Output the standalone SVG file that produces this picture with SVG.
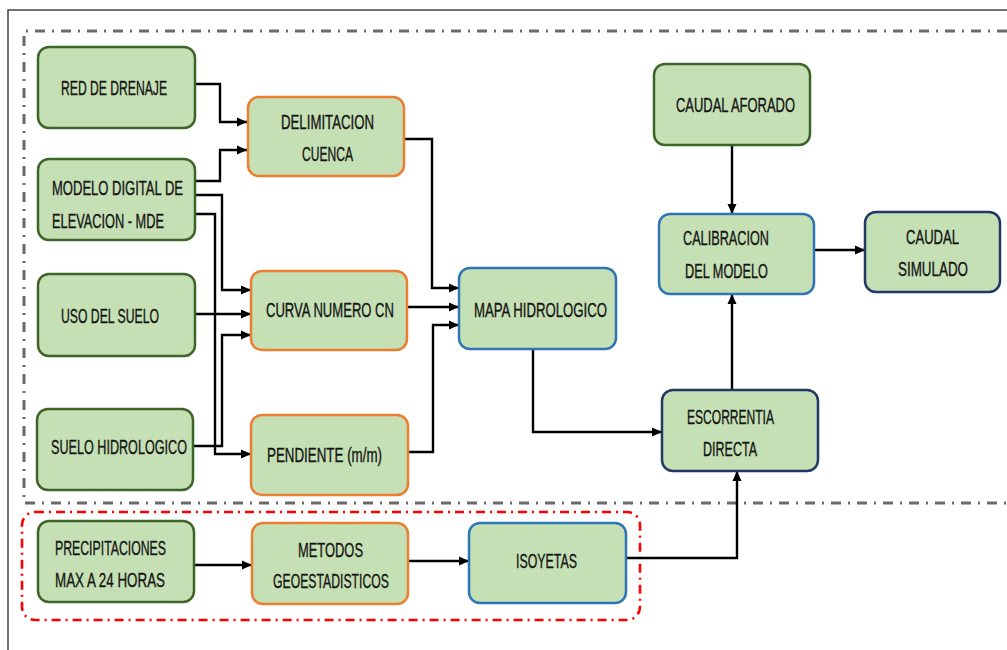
<svg xmlns="http://www.w3.org/2000/svg" width="1007" height="650" viewBox="0 0 1007 650">
  <style>
    .box { fill: #c5e0b4; stroke-width: 2.5; }
    .green { stroke: #3f6428; }
    .orange { stroke: #ed7d31; }
    .blue { stroke: #2e75b6; }
    .navy { stroke: #1f3864; }
    .lbl { font-family: "Liberation Sans Narrow", "Liberation Sans", Arial, sans-serif; font-size: 19.5px; fill: #151515; stroke: #151515; stroke-width: 0.35; }
    .wire { fill: none; stroke: #000; stroke-width: 2.4; marker-end: url(#arrow); }
  </style>
  <defs>
    <marker id="arrow" markerUnits="userSpaceOnUse" markerWidth="10" markerHeight="10" viewBox="0 0 10 10" refX="10" refY="5" orient="auto">
      <path d="M0,0.5 L10,5 L0,9.5 Z" fill="#000"/>
    </marker>
  </defs>

  <rect width="1007" height="650" fill="#fff"/>

  <!-- outer frame -->
  <path d="M1007,10 H8 V650" fill="none" stroke="#444" stroke-width="1.5"/>

  <!-- study-area boundary (grey dash-dot) -->
  <path d="M1007,31 H24 V503 H1007" fill="none" stroke="#6a6a6a" stroke-width="3" stroke-dasharray="10 7 2 7"/>

  <!-- rainfall block boundary (red dash-dot) -->
  <rect x="22" y="512" width="618" height="108" rx="13" ry="13" fill="none" stroke="#ff0000" stroke-width="2.6" stroke-dasharray="9 5 2 5"/>

  <!-- connectors -->
  <g id="connectors">
    <path class="wire" d="M195,84 H220 V122 H247"/>
    <path class="wire" d="M195,181 H220 V150 H247"/>
    <path class="wire" d="M195,195 H222 V290 H251"/>
    <path class="wire" d="M195,214 H215 V454 H251"/>
    <path class="wire" d="M195,314 H251"/>
    <path class="wire" d="M193,446 H222 V335 H251"/>
    <path class="wire" d="M404,139 H432 V288 H459"/>
    <path class="wire" d="M407,307 H459"/>
    <path class="wire" d="M408,452 H433 V325 H459"/>
    <path class="wire" d="M533,349 V432 H662"/>
    <path class="wire" d="M626,558 H737 V471"/>
    <path class="wire" d="M732,389 V294"/>
    <path class="wire" d="M732,145 V214"/>
    <path class="wire" d="M814,250 H865"/>
    <path class="wire" d="M194,565 H252"/>
    <path class="wire" d="M409,561 H469"/>
  </g>

  <!-- nodes -->
  <g id="red-drenaje">
    <rect class="box green" x="38" y="47" width="157" height="81" rx="11"/>
    <text class="lbl" x="61" y="95" textLength="106" lengthAdjust="spacingAndGlyphs">RED DE DRENAJE</text>
  </g>
  <g id="mde">
    <rect class="box green" x="38" y="159" width="157" height="81" rx="11"/>
    <text class="lbl" x="52" y="195" textLength="131" lengthAdjust="spacingAndGlyphs">MODELO DIGITAL DE</text>
    <text class="lbl" x="52" y="228" textLength="112" lengthAdjust="spacingAndGlyphs">ELEVACION - MDE</text>
  </g>
  <g id="uso-suelo">
    <rect class="box green" x="38" y="274" width="157" height="82" rx="11"/>
    <text class="lbl" x="61" y="323" textLength="98" lengthAdjust="spacingAndGlyphs">USO DEL SUELO</text>
  </g>
  <g id="suelo-hidrologico">
    <rect class="box green" x="37" y="409" width="156" height="81" rx="11"/>
    <text class="lbl" x="51" y="454" textLength="136" lengthAdjust="spacingAndGlyphs">SUELO HIDROLOGICO</text>
  </g>
  <g id="delimitacion">
    <rect class="box orange" x="248" y="97" width="156" height="79" rx="11"/>
    <text class="lbl" x="281" y="129" textLength="93" lengthAdjust="spacingAndGlyphs">DELIMITACION</text>
    <text class="lbl" x="302" y="161" textLength="51" lengthAdjust="spacingAndGlyphs">CUENCA</text>
  </g>
  <g id="curva-numero">
    <rect class="box orange" x="251" y="271" width="156" height="79" rx="11"/>
    <text class="lbl" x="266" y="317" textLength="128" lengthAdjust="spacingAndGlyphs">CURVA NUMERO CN</text>
  </g>
  <g id="pendiente">
    <rect class="box orange" x="251" y="415" width="157" height="80" rx="11"/>
    <text class="lbl" x="267" y="462" textLength="115" lengthAdjust="spacingAndGlyphs">PENDIENTE (m/m)</text>
  </g>
  <g id="mapa-hidrologico">
    <rect class="box blue" x="459" y="268" width="157" height="81" rx="11"/>
    <text class="lbl" x="474" y="317" textLength="133" lengthAdjust="spacingAndGlyphs">MAPA HIDROLOGICO</text>
  </g>
  <g id="caudal-aforado">
    <rect class="box green" x="654" y="64" width="156" height="81" rx="11"/>
    <text class="lbl" x="676" y="112" textLength="119" lengthAdjust="spacingAndGlyphs">CAUDAL AFORADO</text>
  </g>
  <g id="calibracion">
    <rect class="box blue" x="659" y="214" width="155" height="80" rx="11"/>
    <text class="lbl" x="683" y="245" textLength="86" lengthAdjust="spacingAndGlyphs">CALIBRACION</text>
    <text class="lbl" x="685" y="278" textLength="83" lengthAdjust="spacingAndGlyphs">DEL MODELO</text>
  </g>
  <g id="caudal-simulado">
    <rect class="box navy" x="865" y="212" width="135" height="80" rx="11"/>
    <text class="lbl" x="906" y="244" textLength="53" lengthAdjust="spacingAndGlyphs">CAUDAL</text>
    <text class="lbl" x="898" y="276" textLength="70" lengthAdjust="spacingAndGlyphs">SIMULADO</text>
  </g>
  <g id="escorrentia">
    <rect class="box navy" x="662" y="390" width="156" height="81" rx="11"/>
    <text class="lbl" x="687" y="424" textLength="87" lengthAdjust="spacingAndGlyphs">ESCORRENTIA</text>
    <text class="lbl" x="703" y="456" textLength="54" lengthAdjust="spacingAndGlyphs">DIRECTA</text>
  </g>
  <g id="precipitaciones">
    <rect class="box green" x="38" y="521" width="156" height="81" rx="11"/>
    <text class="lbl" x="55" y="555" textLength="111" lengthAdjust="spacingAndGlyphs">PRECIPITACIONES</text>
    <text class="lbl" x="55" y="587" textLength="110" lengthAdjust="spacingAndGlyphs">MAX A 24 HORAS</text>
  </g>
  <g id="metodos">
    <rect class="box orange" x="252" y="523" width="156" height="81" rx="11"/>
    <text class="lbl" x="298" y="557" textLength="65" lengthAdjust="spacingAndGlyphs">METODOS</text>
    <text class="lbl" x="273" y="588" textLength="116" lengthAdjust="spacingAndGlyphs">GEOESTADISTICOS</text>
  </g>
  <g id="isoyetas">
    <rect class="box blue" x="469" y="523" width="157" height="80" rx="11"/>
    <text class="lbl" x="516" y="568" textLength="61" lengthAdjust="spacingAndGlyphs">ISOYETAS</text>
  </g>
</svg>
